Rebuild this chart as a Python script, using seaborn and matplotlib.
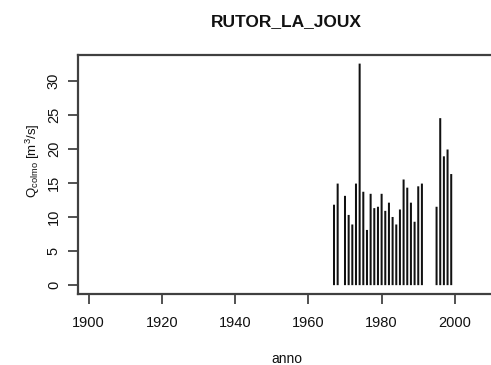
import matplotlib
matplotlib.use("Agg")
import matplotlib.pyplot as plt
import seaborn as sns
import pandas as pd

# Annual peak discharge, station RUTOR_LA_JOUX
anni = [1967, 1968,
        1970, 1971, 1972, 1973, 1974, 1975, 1976, 1977, 1978, 1979,
        1980, 1981, 1982, 1983, 1984, 1985, 1986, 1987, 1988, 1989,
        1990, 1991,
        1995, 1996, 1997, 1998, 1999]
q_colmo = [11.8, 14.9,
           13.1, 10.3, 8.9, 14.9, 32.5, 13.7, 8.1, 13.4, 11.3, 11.5,
           13.4, 10.9, 12.1, 10.0, 8.9, 11.1, 15.5, 14.3, 12.1, 9.3,
           14.5, 14.9,
           11.5, 24.5, 18.9, 19.9, 16.3]
x_ticks = [1900, 1920, 1940, 1960, 1980, 2000]
y_ticks = [0, 5, 10, 15, 20, 25, 30]

df = pd.DataFrame({"anno": anni, "q": q_colmo})

sns.set_theme(style="white")
plt.rcParams["font.family"] = ["Liberation Sans", "DejaVu Sans"]
plt.rcParams["mathtext.fontset"] = "custom"
plt.rcParams["mathtext.rm"] = "Liberation Sans"
plt.rcParams["mathtext.it"] = "Liberation Sans"

fig = plt.figure(figsize=(4.91, 3.65), dpi=100)
ax = fig.add_axes([0.158, 0.1945, 0.852, 0.6555])

sns.barplot(data=df, x="anno", y="q", native_scale=True, width=0.55,
            color="#111111", saturation=1, linewidth=0,
            errorbar=None, ax=ax)
# keep every spike the same (anti-aliased) thickness
for p in ax.patches:
    p.set_snap(False)

ax.set_xlim(1897, 2011.2)
ax.set_ylim(-1.3, 33.8)
ax.set_xticks(x_ticks)
ax.set_yticks(y_ticks)
ax.set_xticklabels([str(t) for t in x_ticks], fontsize=10.5)
ax.set_yticklabels([str(t) for t in y_ticks], fontsize=10.5, rotation=90,
                   va="center")

for s in ax.spines.values():
    s.set_visible(True)
    s.set_color("#404040")
    s.set_linewidth(1.6)

ax.tick_params(axis="both", which="major", direction="out", length=7,
               width=1.1, color="#222222", labelcolor="#111111",
               bottom=True, left=True)
ax.tick_params(axis="x", pad=8.5)
ax.tick_params(axis="y", pad=5)

ax.set_xlabel("anno", fontsize=10, labelpad=16, color="#111111")
ax.set_ylabel(r"Q$_{\mathrm{colmo}}$ [m$^{3}$/s]", fontsize=9.5,
              color="#111111")
ax.yaxis.set_label_coords(-0.085, 0.556)
ax.set_title("RUTOR_LA_JOUX", fontsize=12.5, fontweight="bold",
             pad=21, color="#111111")

fig.savefig("out.png", dpi=100)
